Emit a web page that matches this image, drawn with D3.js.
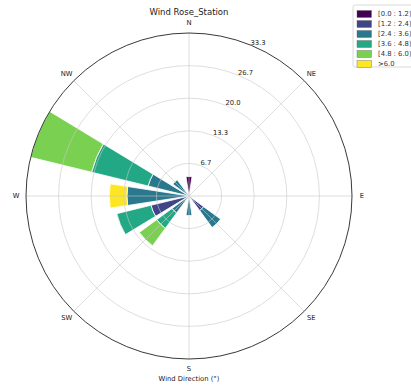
<!DOCTYPE html>
<html>
<head>
<meta charset="utf-8">
<script src="https://cdn.jsdelivr.net/npm/d3@7"></script>
<style>
  html, body { margin: 0; padding: 0; background: #fff; }
  svg { display: block; font-family: "DejaVu Sans", sans-serif; }
</style>
</head>
<body>
<svg id="chart" width="411" height="388"></svg>
<script>
// ---- data ----
const directions = ["N","NNE","NE","ENE","E","ESE","SE","SSE","S","SSW","SW","WSW","W","WNW","NW","NNW"];
const binLabels = ["[0.0 : 1.2)", "[1.2 : 2.4)", "[2.4 : 3.6)", "[3.6 : 4.8)", "[4.8 : 6.0)", ">6.0"];
// frequency (%) per speed bin, one value per direction (order as in `directions`)
const bin0 = [4.0, 0, 0, 0, 0, 0, 0,   0, 0,   0, 0,   0,   0,    0,     0,   0];
const bin1 = [0,   0, 0, 0, 0, 0, 3.7, 0, 0,   0, 0,   8.0, 0,    0,     0,   0];
const bin2 = [0,   0, 0, 0, 0, 0, 4.3, 0, 4.0, 0, 4.3, 0,   12.7, 8.6,   4.1, 0];
const bin3 = [0,   0, 0, 0, 0, 0, 0,   0, 0,   0, 3.9, 7.2, 0,    11.9,  0,   0];
const bin4 = [0,   0, 0, 0, 0, 0, 0,   0, 0,   0, 4.4, 0,   0,    12.83, 0,   0];
const bin5 = [0,   0, 0, 0, 0, 0, 0,   0, 0,   0, 0,   0,   3.6,  0,     0,   0];
const compassLabels = ["N","NE","E","SE","S","SW","W","NW"];
const rTickLabels = ["6.7", "13.3", "20.0", "26.7", "33.3"];
const titleText = "Wind Rose_Station";
const xLabelText = "Wind Direction (°)";

// ---- layout ----
const bins = [bin0, bin1, bin2, bin3, bin4, bin5];
const colors = [0, 0.2, 0.4, 0.6, 0.8, 1].map(t => d3.interpolateViridis(t));
const cx = 189, cy = 196, R = 163;
const totals = directions.map((d, i) => d3.sum(bins, b => b[i]));
const rmax = d3.max(totals);
const r = d3.scaleLinear().domain([0, rmax]).range([0, R]);
const sector = 2 * Math.PI / directions.length;
const opening = 0.78;
const ang = d3.scaleLinear().domain([0, 360]).range([0, 2 * Math.PI]);

const svg = d3.select("#chart");
const g = svg.append("g").attr("transform", `translate(${cx},${cy})`);

// bars (stacked)
const segs = [];
directions.forEach((d, i) => {
  let acc = 0;
  bins.forEach((b, k) => {
    const v = b[i];
    if (v > 0) {
      segs.push({i, k, r0: acc, r1: acc + v});
      acc += v;
    }
  });
});
const arc = d3.arc()
  .innerRadius(s => r(s.r0))
  .outerRadius(s => r(s.r1))
  .startAngle(s => s.i * sector - opening * sector / 2)
  .endAngle(s => s.i * sector + opening * sector / 2);
g.selectAll("path.bar").data(segs).enter().append("path")
  .attr("class", "bar")
  .attr("d", arc)
  .attr("fill", s => colors[s.k])
  .attr("stroke", "#fff")
  .attr("stroke-width", 0.8)
  .attr("stroke-linejoin", "miter");

// grid (drawn on top, like the reference)
const rTicks = rTickLabels.map((t, i) => rmax * (i + 1) / rTickLabels.length);
g.selectAll("circle.grid").data(rTicks.slice(0, -1)).enter().append("circle")
  .attr("class", "grid")
  .attr("r", d => r(d))
  .attr("fill", "none")
  .attr("stroke", "#c8c8c8")
  .attr("stroke-opacity", 0.75)
  .attr("stroke-width", 0.8);
g.selectAll("line.grid").data(compassLabels).enter().append("line")
  .attr("class", "grid")
  .attr("x1", 0).attr("y1", 0)
  .attr("x2", (d, i) => R * Math.sin(ang(i * 45)))
  .attr("y2", (d, i) => -R * Math.cos(ang(i * 45)))
  .attr("stroke", "#c8c8c8")
  .attr("stroke-opacity", 0.75)
  .attr("stroke-width", 0.8);
// outer spine
g.append("circle").attr("r", R).attr("fill", "none")
  .attr("stroke", "#222").attr("stroke-width", 0.9);

// compass labels
g.selectAll("text.dir").data(compassLabels).enter().append("text")
  .attr("class", "dir")
  .attr("x", (d, i) => (R + 10) * Math.sin(ang(i * 45)))
  .attr("y", (d, i) => -(R + 10) * Math.cos(ang(i * 45)))
  .attr("text-anchor", "middle")
  .attr("dominant-baseline", "central")
  .attr("font-size", 6.8)
  .attr("fill", "#222")
  .text(d => d);

// radial labels at 22.5°
const rlab = ang(22.5);
g.selectAll("text.rtick").data(rTicks).enter().append("text")
  .attr("class", "rtick")
  .attr("x", d => r(d) * Math.sin(rlab) - 1)
  .attr("y", d => -r(d) * Math.cos(rlab) - 2.5)
  .attr("text-anchor", "start")
  .attr("dominant-baseline", "central")
  .attr("font-size", 6.8)
  .attr("fill", "#222")
  .text((d, i) => rTickLabels[i]);

// title and axis label
svg.append("text").attr("x", cx).attr("y", 15)
  .attr("text-anchor", "middle").attr("font-size", 8.5).attr("fill", "#222")
  .text(titleText);
svg.append("text").attr("x", cx).attr("y", 381)
  .attr("text-anchor", "middle").attr("font-size", 6.8).attr("fill", "#222")
  .text(xLabelText);

// legend
const lg = svg.append("g").attr("transform", "translate(353,5)");
lg.append("rect").attr("x", 0).attr("y", 0).attr("width", 70).attr("height", 62)
  .attr("rx", 2).attr("fill", "#fff").attr("stroke", "#d0d0d0").attr("stroke-width", 0.8);
const rows = lg.selectAll("g.row").data(binLabels).enter().append("g")
  .attr("class", "row")
  .attr("transform", (d, i) => `translate(4,${5.5 + i * 10})`);
rows.append("rect").attr("width", 14.5).attr("height", 7)
  .attr("fill", (d, i) => colors[i]).attr("stroke", "#666").attr("stroke-width", 0.4);
rows.append("text").attr("x", 21).attr("y", 3.8)
  .attr("dominant-baseline", "central").attr("font-size", 6.8).attr("fill", "#333")
  .text(d => d);
</script>
</body>
</html>
